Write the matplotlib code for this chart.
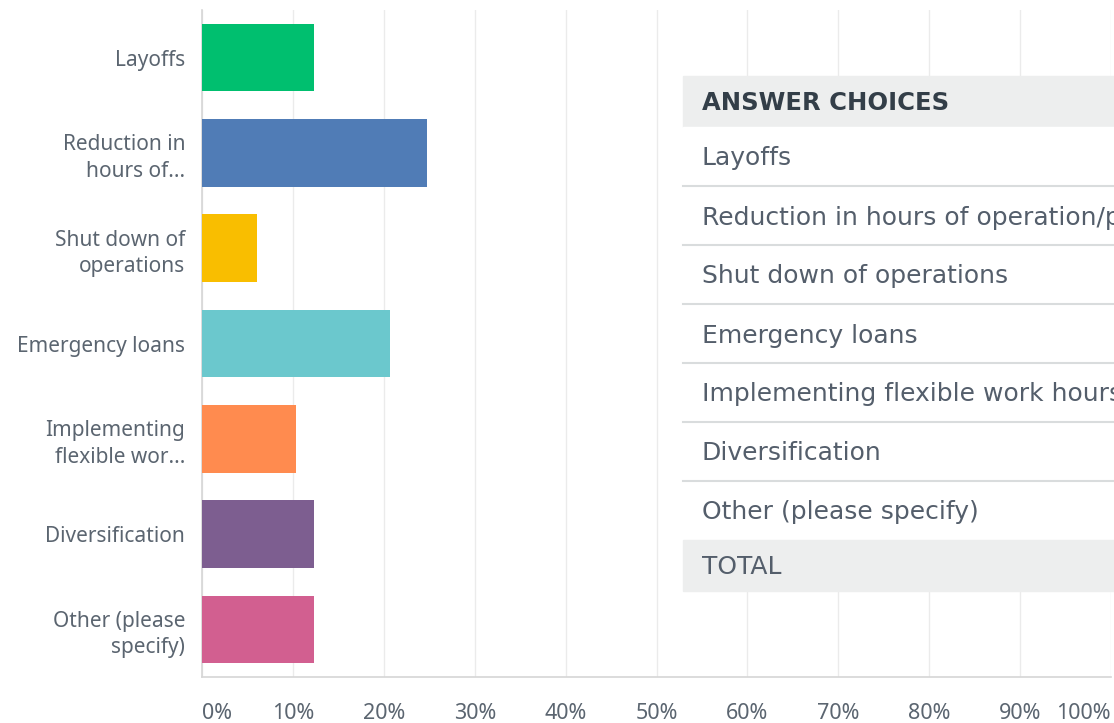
import numpy as np
import matplotlib.pyplot as plt
from matplotlib.patches import Rectangle

# Data ===========================================
labels = ['Layoffs', 'Reduction in\nhours of...', 'Shut down of\noperations', 'Emergency loans',
          'Implementing\nflexible wor...', 'Diversification', 'Other (please\nspecify)']
values = [12.3, 24.7, 6.1, 20.7, 10.3, 12.3, 12.3]
colors = ['#00bf6f', '#507cb6', '#f9be00', '#6bc8cd', '#ff8b4f', '#7d5e90', '#d25f90']
xticks = np.arange(0, 101, 10)
xtick_labels = [f'{t}%' for t in xticks]

table_header = 'ANSWER CHOICES'
table_rows = ['Layoffs', 'Reduction in hours of operation/p', 'Shut down of operations',
              'Emergency loans', 'Implementing flexible work hours', 'Diversification',
              'Other (please specify)']
table_total = 'TOTAL'

W, H = 1114, 723
txt_col = '#5b6570'
grid_col = '#ebebeb'

fig = plt.figure(figsize=(W / 100, H / 100), dpi=100)
ax = fig.add_axes([202 / W, (H - 677) / H, (1111 - 202) / W, 667 / H])

y = np.arange(len(labels))
ax.barh(y, values, height=0.71, color=colors, zorder=3)
ax.set_ylim(len(labels) - 0.5, -0.5)
ax.set_xlim(0, 100)

ax.set_yticks(y)
ax.set_yticklabels(labels, fontsize=15, color=txt_col, family='Noto Sans',
                   linespacing=1.35, ha='right')
ax.tick_params(axis='y', length=0, pad=12)
ax.set_xticks(xticks)
ax.set_xticklabels(xtick_labels, fontsize=15.5, color=txt_col, family='Noto Sans')
ax.tick_params(axis='x', length=0, pad=19)
lbls = ax.get_xticklabels()
lbls[0].set_ha('left')
lbls[-1].set_ha('right')

ax.grid(axis='x', color=grid_col, lw=1, zorder=0)
for s in ['top', 'right']:
    ax.spines[s].set_visible(False)
for s in ['left', 'bottom']:
    ax.spines[s].set_color('#d6d6d6')
    ax.spines[s].set_linewidth(1.2)

# Table overlay (pixel coordinates) ==============
tx = fig.add_axes([0, 0, 1, 1], zorder=10)
tx.set_xlim(0, W)
tx.set_ylim(H, 0)
tx.axis('off')

x0, row_h = 683, 59.0
head_top, head_h = 76, 51
tx.add_patch(Rectangle((x0, head_top), W - x0, head_h, color='#edeeee'))
tx.text(702, head_top + head_h / 2 + 1, table_header, fontsize=17.5, fontweight='bold',
        color='#333e48', va='center', family='DejaVu Sans')
top = head_top + head_h
for i, row in enumerate(table_rows):
    r0 = top + i * row_h
    tx.add_patch(Rectangle((x0, r0), W - x0, row_h, color='white'))
    tx.text(702, r0 + row_h / 2 + 2, row, fontsize=18, color='#545e6b', va='center',
            family='DejaVu Sans', clip_on=True)
    if i < len(table_rows) - 1:
        tx.plot([x0, W], [r0 + row_h, r0 + row_h], color='#d9dcdd', lw=1.5)
tot_top = top + len(table_rows) * row_h
tx.add_patch(Rectangle((x0, tot_top), W - x0, 51, color='#edeeee'))
tx.text(702, tot_top + 27, table_total, fontsize=18, color='#545e6b', va='center',
        family='DejaVu Sans')

fig.savefig('out.png', dpi=100)
